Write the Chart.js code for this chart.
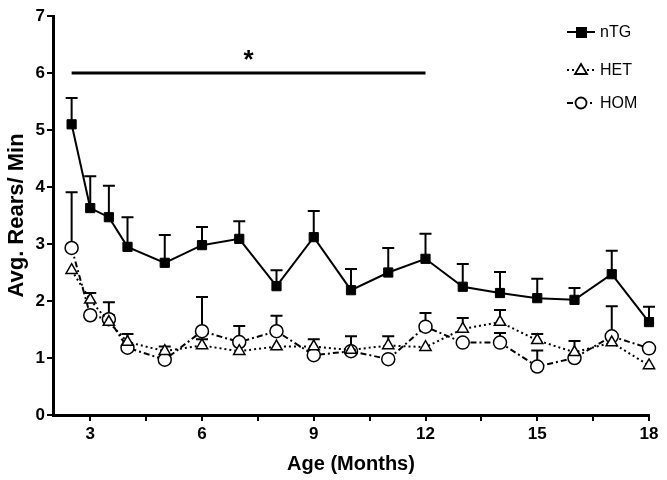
<!DOCTYPE html>
<html>
<head>
<meta charset="utf-8">
<script src="https://cdn.jsdelivr.net/npm/chart.js@4"></script>
<style>
  body { margin: 0; background: #fff; }
  canvas { display: block; }
</style>
</head>
<body>
<canvas id="myChart" width="667" height="480"></canvas>
<script>
// --- data ---
const months = [2.5, 3, 3.5, 4, 5, 6, 7, 8, 9, 10, 11, 12, 13, 14, 15, 16, 17, 18];

const nTG    = [5.1, 3.63, 3.47, 2.95, 2.67, 2.98, 3.09, 2.26, 3.12, 2.19, 2.5, 2.74, 2.25, 2.14, 2.05, 2.02, 2.47, 1.63];
const nTGTop = [5.56, 4.19, 4.02, 3.47, 3.16, 3.3, 3.4, 2.54, 3.58, 2.56, 2.93, 3.18, 2.65, 2.51, 2.39, 2.23, 2.88, 1.9];

const het    = [2.54, 2.02, 1.63, 1.28, 1.12, 1.22, 1.12, 1.2, 1.2, 1.14, 1.22, 1.19, 1.51, 1.63, 1.31, 1.1, 1.27, 0.87];
const hetTop = [null, 2.14, 1.75, 1.42, 1.2, 1.33, null, null, 1.33, 1.38, 1.38, null, 1.7, 1.84, 1.42, 1.3, null, null];

const hom    = [2.93, 1.75, 1.68, 1.18, 0.97, 1.47, 1.28, 1.47, 1.05, 1.12, 0.98, 1.55, 1.27, 1.27, 0.85, 1.0, 1.38, 1.17];
const homTop = [3.91, null, 1.98, null, null, 2.07, 1.56, 1.74, null, null, null, 1.79, null, 1.44, 1.13, null, 1.91, null];

const xTicks = [3, 4.5, 6, 7.5, 9, 10.5, 12, 13.5, 15, 16.5, 18];
const sigBar = { from: 2.5, to: 12, y: 6, star: '*' };

function pts(vals) {
    return months.map((m, i) => ({ x: m, y: vals[i] }));
}

const FONT = '"Liberation Sans", Arial, sans-serif';

/* --- error bars, significance bar, legend --- */
const extras = {
    id: 'extras',
    beforeDatasetsDraw(chart) {
        const ctx = chart.ctx;
        const xs = chart.scales.x, ys = chart.scales.y;
        ctx.save();
        ctx.strokeStyle = '#000';
        ctx.lineWidth = 2;
        chart.data.datasets.forEach(ds => {
            ds.errTop.forEach((top, i) => {
                if (top === null) return;
                const px = xs.getPixelForValue(months[i]);
                const py = ys.getPixelForValue(ds.data[i].y);
                const pt = ys.getPixelForValue(top);
                ctx.beginPath();
                ctx.moveTo(px, py);
                ctx.lineTo(px, pt);
                ctx.moveTo(px - 6, pt);
                ctx.lineTo(px + 6, pt);
                ctx.stroke();
            });
        });
        ctx.restore();
    },
    afterDatasetsDraw(chart) {
        const ctx = chart.ctx;
        const xs = chart.scales.x, ys = chart.scales.y;
        ctx.save();
        // significance bar
        const y6 = ys.getPixelForValue(sigBar.y);
        ctx.strokeStyle = '#000';
        ctx.lineWidth = 3;
        ctx.beginPath();
        ctx.moveTo(xs.getPixelForValue(sigBar.from), y6);
        ctx.lineTo(xs.getPixelForValue(sigBar.to), y6);
        ctx.stroke();
        ctx.fillStyle = '#000';
        ctx.font = 'bold 26px ' + FONT;
        ctx.textAlign = 'center';
        ctx.textBaseline = 'middle';
        ctx.fillText(sigBar.star, xs.getPixelForValue((sigBar.from + sigBar.to) / 2), y6 - 12);

        // legend
        const rows = [32, 70, 103];
        chart.data.datasets.forEach((ds, i) => {
            const y = rows[i];
            ctx.lineWidth = 2;
            ctx.setLineDash(ds.borderDash || []);
            ctx.beginPath();
            ctx.moveTo(567, y);
            ctx.lineTo(595, y);
            ctx.stroke();
            ctx.setLineDash([]);
            ctx.lineWidth = 1.8;
            ctx.beginPath();
            if (ds.pointStyle === 'rect') {
                ctx.fillStyle = '#000';
                ctx.fillRect(576, y - 5, 11, 11);
            } else if (ds.pointStyle === 'triangle') {
                ctx.fillStyle = '#fff';
                ctx.moveTo(581, y - 6);
                ctx.lineTo(587, y + 4);
                ctx.lineTo(575, y + 4);
                ctx.closePath();
                ctx.fill();
                ctx.stroke();
            } else {
                ctx.fillStyle = '#fff';
                ctx.arc(581, y, 5.5, 0, Math.PI * 2);
                ctx.fill();
                ctx.stroke();
            }
            ctx.fillStyle = '#000';
            ctx.font = '16px ' + FONT;
            ctx.textAlign = 'left';
            ctx.fillText(ds.label, 600, y + 1);
        });
        ctx.restore();
    }
};

const data = {
    datasets: [{
        label: 'nTG',
        data: pts(nTG),
        errTop: nTGTop,
        borderColor: '#000',
        backgroundColor: '#000',
        borderWidth: 2,
        pointStyle: 'rect',
        pointRadius: 6.5,
        pointBorderWidth: 1,
    },
    {
        label: 'HET',
        data: pts(het),
        errTop: hetTop,
        borderColor: '#000',
        backgroundColor: '#fff',
        borderWidth: 2,
        borderDash: [2, 3],
        pointStyle: 'triangle',
        pointRadius: 6.5,
        pointBorderWidth: 1.5,
    },
    {
        label: 'HOM',
        data: pts(hom),
        errTop: homTop,
        borderColor: '#000',
        backgroundColor: '#fff',
        borderWidth: 2,
        borderDash: [6, 3, 2, 3],
        pointStyle: 'circle',
        pointRadius: 6.5,
        pointBorderWidth: 1.5,
    }]
};

const config = {
    type: 'line',
    data: data,
    options: {
        responsive: false,
        animation: false,
        clip: false,
        layout: { padding: { top: 16, right: 18, left: 0, bottom: 0 } },
        plugins: {
            legend: { display: false },
            tooltip: { enabled: false }
        },
        scales: {
            x: {
                type: 'linear',
                min: 2,
                max: 18,
                afterBuildTicks: s => { s.ticks = xTicks.map(v => ({ value: v })); },
                afterFit: s => { s.height = 65; },
                grid: { drawOnChartArea: false, drawTicks: true, tickLength: 6, color: '#000', lineWidth: 2 },
                border: { color: '#000', width: 3 },
                ticks: {
                    color: '#000',
                    font: { family: FONT, size: 17, weight: 'bold' },
                    padding: 3,
                    maxRotation: 0,
                    autoSkip: false,
                    callback: v => (v % 3 === 0 ? v : '')
                },
                title: {
                    display: true,
                    text: 'Age (Months)',
                    color: '#000',
                    font: { family: FONT, size: 20, weight: 'bold' },
                    padding: { top: 0 }
                }
            },
            y: {
                min: 0,
                max: 7,
                afterFit: s => { s.width = 53; },
                grid: { drawOnChartArea: false, drawTicks: true, tickLength: 6, color: '#000', lineWidth: 2 },
                border: { color: '#000', width: 3 },
                ticks: {
                    stepSize: 1,
                    color: '#000',
                    font: { family: FONT, size: 17, weight: 'bold' },
                    padding: 2
                },
                title: {
                    display: true,
                    text: 'Avg. Rears/ Min',
                    color: '#000',
                    font: { family: FONT, size: 22, weight: 'bold' },
                    padding: { bottom: 0 }
                }
            }
        }
    },
    plugins: [extras]
};

const ctx = document.getElementById('myChart');
const myChart = new Chart(ctx, config);
</script>
</body>
</html>
